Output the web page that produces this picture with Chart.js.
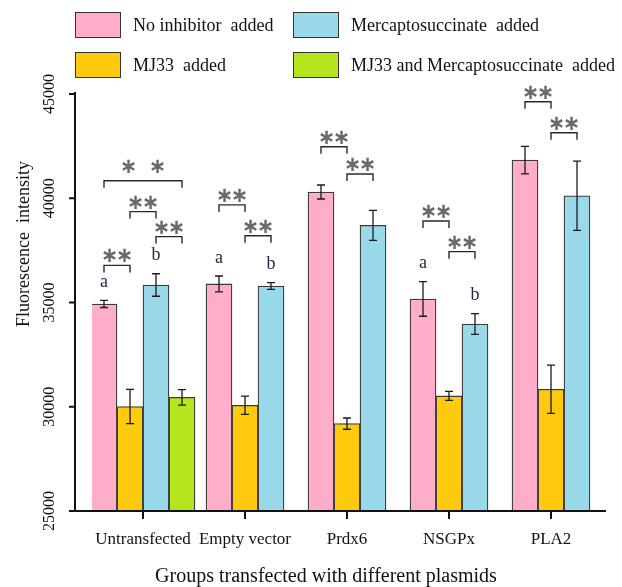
<!DOCTYPE html>
<html><head><meta charset="utf-8">
<script src="https://cdn.jsdelivr.net/npm/chart.js@4.4.1/dist/chart.umd.min.js"></script>
<style>
body{margin:0;background:#fff;}
#wrap{position:relative;width:622px;height:587px;}
#legend{position:absolute;left:75px;top:12px;display:grid;grid-template-rows:26px 26px;grid-template-columns:218px auto;grid-auto-flow:column;row-gap:14px;font:18px "Liberation Serif","Times New Roman",serif;color:#111;}
.lg{display:flex;align-items:center;white-space:pre;}
.lg i{display:inline-block;width:46px;height:26px;border:1.5px solid #333;box-sizing:border-box;margin-right:12px;}
</style></head>
<body><div id="wrap"><canvas id="c" width="622" height="587"></canvas><div id="legend"></div></div>
<script>
const groups = ['Untransfected', 'Empty vector', 'Prdx6', 'NSGPx', 'PLA2'];
const seriesNames = ['No inhibitor  added', 'MJ33  added', 'Mercaptosuccinate  added', 'MJ33 and Mercaptosuccinate  added'];
const seriesColors = ['#FFADC9', '#FFC90E', '#99D9EA', '#B5E61D'];
const noInhibitor = [34930, 35890, 40300, 35170, 41830];
const noInhibitorErr = [170, 380, 335, 830, 660];
const mj33 = [30010, 30070, 29190, 30520, 30840];
const mj33Err = [820, 440, 270, 215, 1160];
const mercapto = [35840, 35790, 38700, 33970, 40120];
const mercaptoErr = [540, 160, 720, 500, 1660];
const both = [30450, null, null, null, null];
const bothErr = [375, null, null, null, null];
// significance brackets: group, from series, to series, height of bar line
const brackets = [
  [0, 0, 1, 36780], [0, 1, 2, 39360], [0, 2, 3, 38160], [0, 0, 3, 40840],
  [1, 0, 1, 39680], [1, 1, 2, 38200],
  [2, 0, 1, 42470], [2, 1, 2, 41160],
  [3, 0, 1, 38910], [3, 1, 2, 37440],
  [4, 0, 1, 44630], [4, 1, 2, 43140]
];
const letters = [[0, 0, 'a'], [0, 2, 'b'], [1, 0, 'a'], [1, 2, 'b'], [3, 0, 'a'], [3, 2, 'b']];

const values = [noInhibitor, mj33, mercapto, both];
const errors = [noInhibitorErr, mj33Err, mercaptoErr, bothErr];
const serif = '"Liberation Serif","Times New Roman",serif';

document.getElementById('legend').innerHTML = seriesNames.map((n, i) =>
  `<div class="lg"><i style="background:${seriesColors[i]}"></i>${n}</div>`).join('');

const extras = {
  id: 'extras',
  afterDatasetsDraw(chart) {
    const {ctx} = chart; const y = chart.scales.y;
    ctx.save();
    ctx.strokeStyle = '#1a1a1a'; ctx.lineWidth = 1.3;
    values.forEach((vals, d) => {
      chart.getDatasetMeta(d).data.forEach((el, i) => {
        if (vals[i] == null) return;
        const t = y.getPixelForValue(vals[i] + errors[d][i]), b = y.getPixelForValue(vals[i] - errors[d][i]);
        ctx.beginPath();
        ctx.moveTo(el.x, t); ctx.lineTo(el.x, b);
        ctx.moveTo(el.x - 4, t); ctx.lineTo(el.x + 4, t);
        ctx.moveTo(el.x - 4, b); ctx.lineTo(el.x + 4, b);
        ctx.stroke();
      });
    });
    // brackets + stars
    ctx.strokeStyle = '#2a2a2a'; ctx.lineWidth = 1.4;
    ctx.fillStyle = '#6a6a6a'; ctx.font = 'bold 21px "DejaVu Sans"';
    ctx.textAlign = 'center'; ctx.textBaseline = 'middle';
    brackets.forEach(([g, a, b, h]) => {
      const x1 = chart.getDatasetMeta(a).data[g].x, x2 = chart.getDatasetMeta(b).data[g].x;
      const yy = y.getPixelForValue(h), mid = (x1 + x2) / 2;
      ctx.beginPath();
      ctx.moveTo(x1, yy + 7); ctx.lineTo(x1, yy); ctx.lineTo(x2, yy); ctx.lineTo(x2, yy + 7);
      ctx.stroke();
      const wide = b - a > 1;
      const gap = wide ? 14.5 : 7.5, up = wide ? 13 : 8.5;
      ctx.fillText('\u2217', mid - gap, yy - up);
      ctx.fillText('\u2217', mid + gap, yy - up);
    });
    ctx.fillStyle = '#1d2340'; ctx.font = '18px ' + serif;
    letters.forEach(([g, s, txt]) => {
      const el = chart.getDatasetMeta(s).data[g];
      ctx.fillText(txt, el.x, y.getPixelForValue(values[s][g] + errors[s][g]) - 18);
    });
    ctx.restore();
  },
  afterDraw(chart) {
    const {ctx, chartArea} = chart; const y = chart.scales.y;
    ctx.save();
    ctx.strokeStyle = '#111'; ctx.lineWidth = 2;
    ctx.beginPath();
    ctx.moveTo(75, y.getPixelForValue(45000) - 2); ctx.lineTo(75, chartArea.bottom);
    ctx.moveTo(74, chartArea.bottom); ctx.lineTo(606, chartArea.bottom);
    y.ticks.forEach(t => { const p = y.getPixelForValue(t.value); ctx.moveTo(69, p); ctx.lineTo(75, p); });
    ctx.stroke();
    ctx.fillStyle = '#111'; ctx.textAlign = 'center'; ctx.textBaseline = 'middle';
    ctx.font = '20px ' + serif;
    ctx.fillText('Groups transfected with different plasmids', 326, 577);
    ctx.translate(24, 244); ctx.rotate(-Math.PI / 2);
    ctx.font = '18px ' + serif;
    ctx.fillText('Fluorescence  intensity', 0, 0);
    ctx.restore();
  }
};

new Chart(document.getElementById('c'), {
  type: 'bar',
  data: {
    labels: groups,
    datasets: values.map((v, i) => ({
      label: seriesNames[i], data: v, backgroundColor: seriesColors[i],
      borderColor: '#3c3c3c', borderWidth: 1.3
    }))
  },
  options: {
    responsive: false, animation: false, devicePixelRatio: 1,
    layout: {padding: {top: 94, right: 20, bottom: 0, left: 0}},
    plugins: {legend: {display: false}, tooltip: {enabled: false}},
    datasets: {bar: {barThickness: 26, skipNull: true}},
    scales: {
      x: {
        offset: true,
        grid: {display: true, drawOnChartArea: false, offset: false, tickLength: 8, color: '#111', lineWidth: 2},
        border: {display: false},
        ticks: {padding: 10, color: '#111', maxRotation: 0, autoSkip: false, font: {family: serif, size: 17}},
        afterFit: s => { s.height = 76; }
      },
      y: {
        min: 25000, max: 45000,
        grid: {display: false, drawTicks: false}, border: {display: false},
        ticks: {stepSize: 5000, minRotation: 90, maxRotation: 90, crossAlign: 'center', padding: 22, color: '#111',
          font: {family: serif, size: 16}, callback: v => String(v)},
        afterFit: s => { s.width = 92; }
      }
    }
  },
  plugins: [extras]
});
</script>
</body></html>
